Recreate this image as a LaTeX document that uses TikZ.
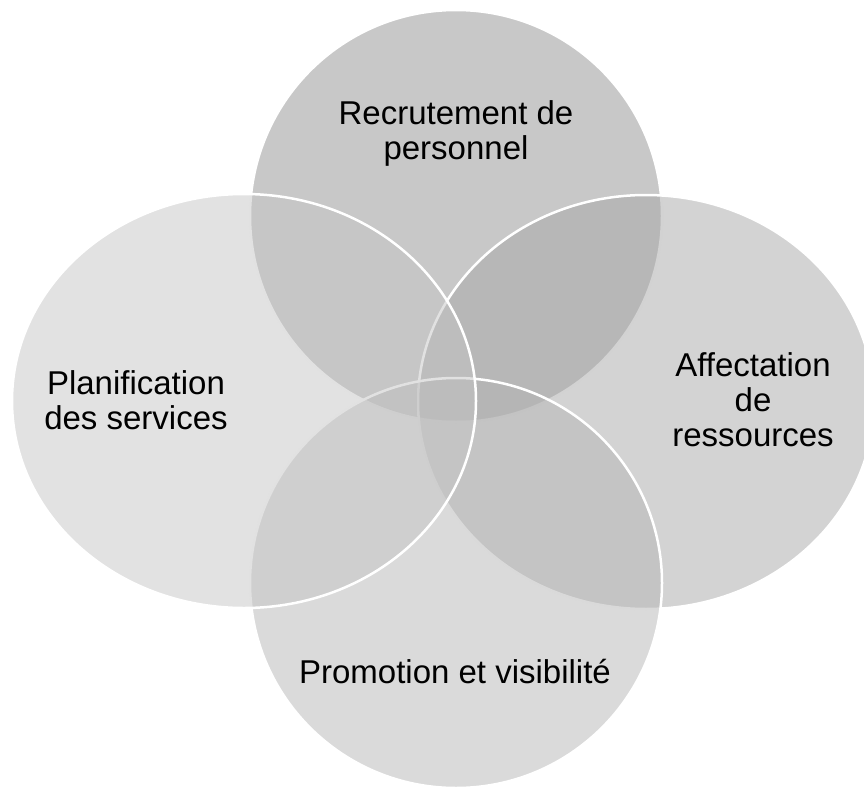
\documentclass[tikz,border=0pt]{standalone}
\usepackage{fontspec}
\setmainfont{Liberation Sans}
% fill tones of the four sets (laid at half opacity)
\definecolor{topfill}{gray}{0.569}
\definecolor{rightfill}{gray}{0.655}
\definecolor{bottomfill}{gray}{0.710}
\definecolor{leftfill}{gray}{0.773}
\begin{document}
\begin{tikzpicture}[x=1pt,y=-1pt,
  blob/.style={draw=white, line width=2.5pt, fill opacity=0.5},
  lbl/.style={align=center, font=\fontsize{33}{35}\selectfont, text=black, inner sep=0pt}]
\useasboundingbox (0,0) rectangle (864,789);
% the four overlapping sets, back to front
\path[blob, fill=topfill]    (456,216) ellipse [x radius=206, y radius=206];
\path[blob, fill=rightfill]  (646,402) ellipse [x radius=228, y radius=207];
\path[blob, fill=bottomfill] (456,583) ellipse [x radius=206, y radius=205];
\path[blob, fill=leftfill]   (244,401) ellipse [x radius=232, y radius=207];
% labels
\node[lbl] (recr)  at (456,133) {Recrutement de\\personnel};
\node[lbl] (plan)  at (136,400) {Planification\\des services};
\node[lbl] (affec) at (753,400) {Affectation\\de\\ressources};
\node[lbl] (promo) at (455,672) {Promotion et visibilité};
\end{tikzpicture}
\end{document}
